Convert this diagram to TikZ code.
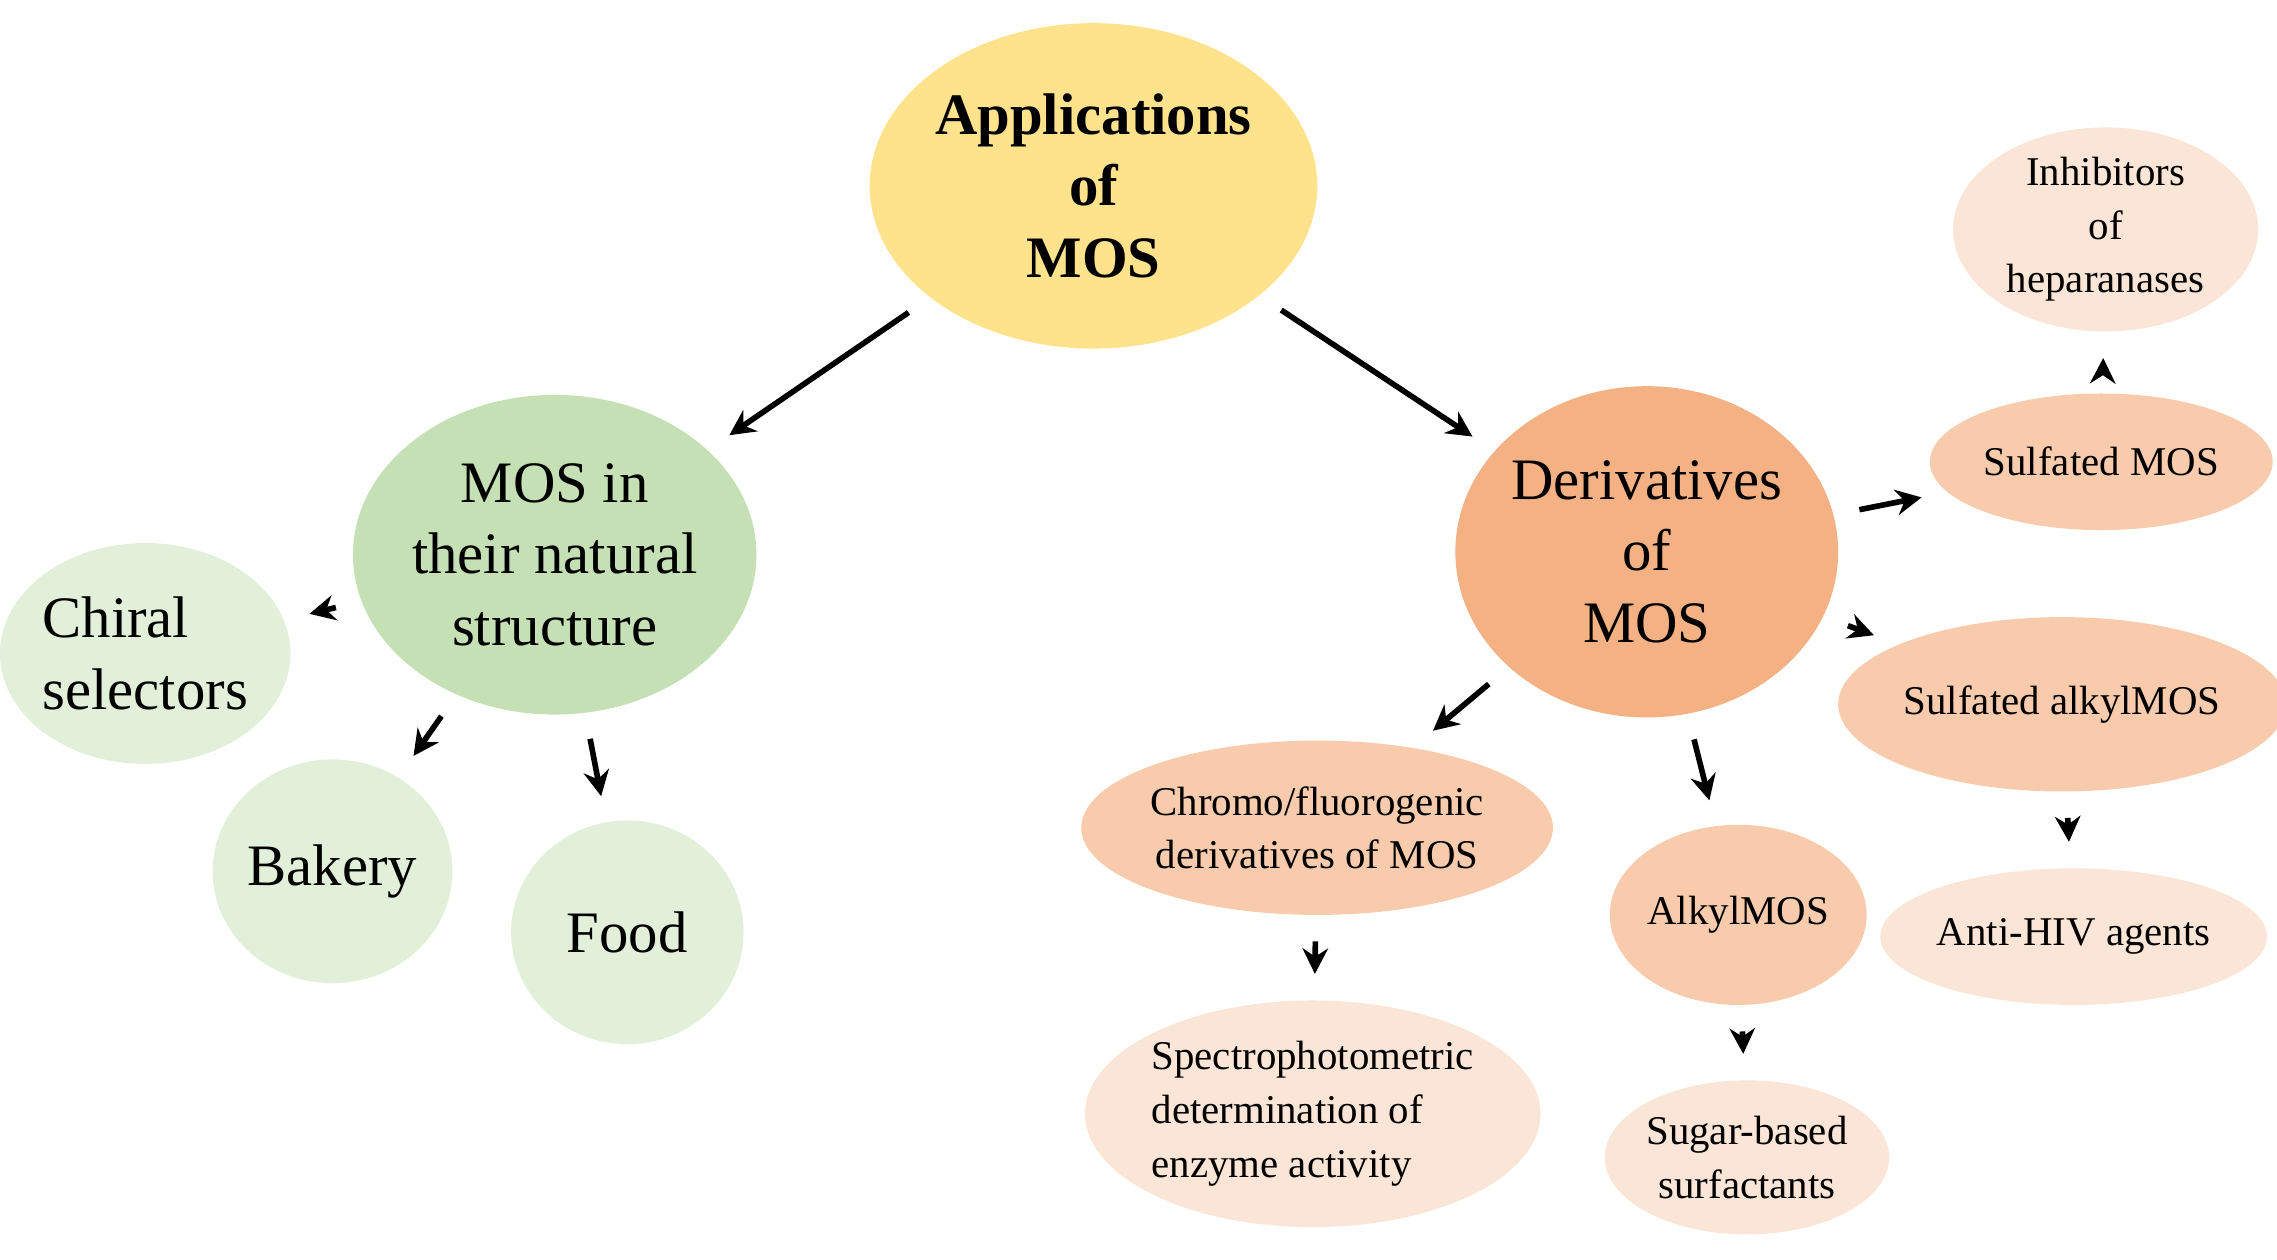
\documentclass[tikz,border=0pt]{standalone}
\usepackage{fontspec}
\setmainfont{Liberation Serif}
\usetikzlibrary{shapes.geometric,arrows.meta}
\definecolor{yel}{HTML}{FFE38C}
\definecolor{grn}{HTML}{C5E0B4}
\definecolor{lgrn}{HTML}{E2F0D9}
\definecolor{org}{HTML}{F4B183}
\definecolor{morg}{HTML}{F8CBAD}
\definecolor{lorg}{HTML}{FBE5D6}
\begin{document}
\begin{tikzpicture}[x=0.01cm,y=-0.01cm,
 el/.style={ellipse,draw=none,align=center,inner sep=0pt},
 sz/.style 2 args={minimum width=#1cm,minimum height=#2cm},
 big/.style={font=\fontsize{11.5}{14}\selectfont},
 sm/.style={font=\fontsize{8}{10.5}\selectfont},
 ar/.style={-{Stealth[length=5pt,width=5pt]},line width=1.1pt,shorten <=5pt,shorten >=5pt}]
\useasboundingbox (0,0) rectangle (1568,867);
\node[el,fill=yel,sz={2.50}{2.24},font=\bfseries\fontsize{11.5}{14}\selectfont] (app) at (753,128) {Applications\\of\\MOS};
\node[el,fill=grn,sz={2.36}{2.20},big] (nat) at (382,382) {MOS in\\their natural\\structure};
\node[el,fill=lgrn,sz={1.60}{1.52},big,align=left] (chi) at (100,450) {Chiral\\selectors};
\node[el,fill=lgrn,sz={1.60}{1.54},big] (bak) at (229,600) {Bakery};
\node[el,fill=lgrn,sz={1.60}{1.54},big] (food) at (432,642) {Food};
\node[el,fill=org,sz={2.34}{2.28},big] (der) at (1134,380) {Derivatives\\of\\MOS};
\node[el,fill=morg,sz={2.36}{0.94},sm] (sul) at (1447,318) {Sulfated MOS};
\node[el,fill=lorg,sz={2.10}{1.20},sm] (inh) at (1450,158) {Inhibitors\\of\\heparanases};
\node[el,fill=morg,sz={2.46}{1.20},sm] (sal) at (1420,485) {Sulfated alkylMOS};
\node[el,fill=lorg,sz={2.20}{0.94},sm] (hiv) at (1428,645) {Anti-HIV agents};
\node[el,fill=morg,sz={2.48}{1.20},sm] (chr) at (907,570) {Chromo/fluorogenic\\derivatives of MOS};
\node[el,fill=lorg,sz={2.60}{1.56},sm,align=left] (spe) at (904,767) {Spectrophotometric\\determination of\\enzyme activity};
\node[el,fill=morg,sz={1.70}{1.24},sm] (alk) at (1197,630) {AlkylMOS};
\node[el,fill=lorg,sz={1.80}{1.06},sm] (sug) at (1203,797) {Sugar-based\\surfactants};
\draw[ar] (app) -- (nat);
\draw[ar] (app) -- (der);
\draw[ar] (nat) -- (chi);
\draw[ar] (nat) -- (bak);
\draw[ar] (nat) -- (food);
\draw[ar] (der) -- (sul);
\draw[ar] (sul) -- (inh);
\draw[ar] (der) -- (sal);
\draw[ar] (sal) -- (hiv);
\draw[ar] (der) -- (chr);
\draw[ar] (chr) -- (spe);
\draw[ar] (der) -- (alk);
\draw[ar] (alk) -- (sug);
\end{tikzpicture}
\end{document}
